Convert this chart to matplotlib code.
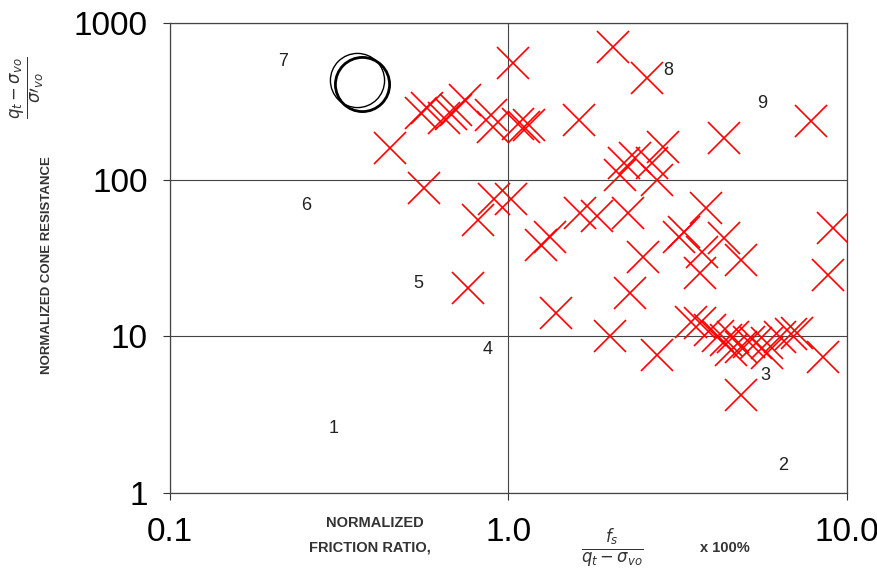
import matplotlib
matplotlib.use("Agg")
import matplotlib.pyplot as plt
import numpy as np

plt.rcParams['font.family'] = ['Liberation Sans', 'DejaVu Sans']

# Normalized friction ratio (%) and normalized cone resistance of the data points
friction_ratio = [1.03, 2.04, 2.57, 7.85, 4.32, 1.61, 0.746, 0.550, 0.573, 0.643,
                  0.674, 0.702, 0.885, 0.897, 1.07, 1.11, 1.15, 0.448, 0.561, 0.903,
                  1.02, 0.815, 0.757, 1.25, 1.33, 1.63, 1.83, 2.25, 2.19, 2.37,
                  2.66, 2.75, 2.14, 2.87, 3.82, 3.18, 4.32, 3.74, 4.85, 3.69,
                  2.49, 2.29, 1.38, 2.00, 2.75, 3.45, 3.69, 3.95, 4.17, 4.38,
                  4.62, 4.85, 5.12, 5.37, 5.82, 6.36, 6.81, 7.14, 5.82, 4.53,
                  8.47, 4.85, 9.12, 8.76, 3.29]
cone_resistance = [555, 703, 445, 237, 184, 240, 322, 266, 286, 247,
                   262, 278, 258, 216, 226, 216, 223, 159, 88.3, 75,
                   75, 55, 20.3, 38.1, 43, 61, 58.5, 61, 127, 137,
                   127, 99, 107, 161, 65.8, 43, 42.3, 34.4, 30.6, 25.3,
                   32, 18.8, 14, 10.1, 7.56, 12.3, 12.1, 10.9, 10.0, 9.43,
                   9.86, 8.51, 9.16, 9.02, 9.02, 9.86, 10.3, 10.5, 7.78, 8.15,
                   7.35, 4.2, 49, 24.5, 46.3]

# Highlighted points (black circles)
circle_x = [0.357, 0.370]
circle_y = [434, 405]
circle_lw = [1.0, 2.0]

# Soil behaviour zone numbers
zone_labels = ['1', '2', '3', '4', '5', '6', '7', '8', '9']
zone_x = [0.304, 6.49, 5.74, 0.867, 0.542, 0.253, 0.216, 2.97, 5.63]
zone_y = [2.58, 1.5, 5.63, 8.26, 21.8, 68.7, 564, 501, 308]

x_ticks = [0.1, 1.0, 10.0]
x_ticklabels = ['0.1', '1.0', '10.0']
y_ticks = [1, 10, 100, 1000]
y_ticklabels = ['1', '10', '100', '1000']

fig = plt.figure(figsize=(8.78, 5.74), dpi=100)
ax = fig.add_axes([170 / 878, 1 - 493 / 574, (847 - 170) / 878, (493 - 23) / 574])

ax.set_xscale('log')
ax.set_yscale('log')
ax.set_xlim(0.1, 10.0)
ax.set_ylim(1, 1000)

ax.set_xticks(x_ticks)
ax.set_xticklabels(x_ticklabels)
ax.set_yticks(y_ticks)
ax.set_yticklabels(y_ticklabels)
ax.minorticks_off()
ax.tick_params(axis='both', which='major', labelsize=24, length=5, width=0.8,
               color='#333333', direction='out')
ax.tick_params(axis='x', pad=12)
ax.tick_params(axis='y', pad=11)

ax.grid(True, which='major', color='#444444', linewidth=0.8)
for s in ax.spines.values():
    s.set_color('#444444')
    s.set_linewidth(0.9)

# zone numbers
for lab, zx, zy in zip(zone_labels, zone_x, zone_y):
    ax.text(zx, zy, lab, fontsize=13, color='#222222', ha='center', va='center')

ax.plot(friction_ratio, cone_resistance, linestyle='none', marker='x',
        markersize=23, markeredgewidth=1.2, color='#ff0000', zorder=5)

for cx, cy, lw in zip(circle_x, circle_y, circle_lw):
    ax.plot([cx], [cy], linestyle='none', marker='o', markersize=39,
            markerfacecolor='none', markeredgecolor='black', markeredgewidth=lw,
            zorder=6)

# axis descriptions
fig.text(375 / 878, 1 - 523 / 574, 'NORMALIZED', fontsize=10.5, fontweight='bold',
         color='#333333', ha='center', va='center')
fig.text(370 / 878, 1 - 548 / 574, 'FRICTION RATIO,', fontsize=10.5, fontweight='bold',
         color='#333333', ha='center', va='center')
fig.text(612 / 878, 1 - 548 / 574, r'$\frac{f_s}{q_t-\sigma_{vo}}$', fontsize=17,
         color='#333333', ha='center', va='center')
fig.text(725 / 878, 1 - 548 / 574, 'x 100%', fontsize=10.5, fontweight='bold',
         color='#333333', ha='center', va='center')
fig.text(47 / 878, 1 - 265 / 574, 'NORMALIZED CONE RESISTANCE', fontsize=9.5,
         fontweight='bold', color='#333333', rotation=90, ha='center', va='center')
fig.text(27 / 878, 1 - 88 / 574, r'$\frac{q_t-\sigma_{vo}}{\sigma\prime_{vo}}$',
         fontsize=17, color='#333333', rotation=90, ha='center', va='center')

fig.savefig('out.png', dpi=100)
